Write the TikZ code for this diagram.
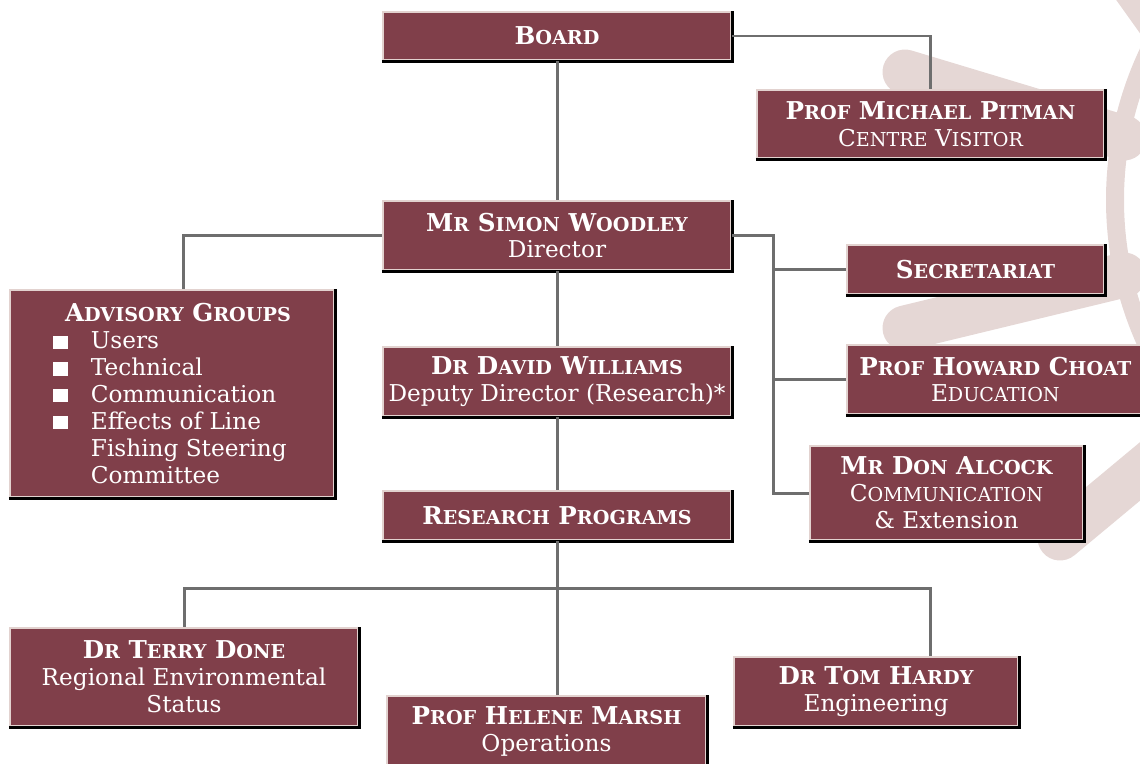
\documentclass[tikz,border=0pt]{standalone}
\usepackage{fontspec}
\setmainfont{DejaVu Serif}
\definecolor{boxred}{HTML}{803F4A}
\definecolor{boxedge}{HTML}{E2D2CF}
\definecolor{sunpink}{HTML}{E5D7D5}
\definecolor{linkgray}{HTML}{6E6E6E}
\newcommand\smc[2]{#1{\fontsize{10.9}{15.3}\selectfont #2}}
\newcommand\role[1]{{\mdseries\fontsize{13.2}{15.3}\selectfont #1}}
\newcommand\bsq{\rule{8.5pt}{7.5pt}}

\begin{document}
\begin{tikzpicture}[x=0.02cm, y=-0.02cm]
        \tikzstyle{orgbox} = [fill=boxred, draw=boxedge, line width=0.05cm, text=white, align=center, inner sep=0pt, font=\fontsize{14}{15.3}\selectfont\bfseries]
        \tikzstyle{dropline} = [draw=black, line width=0.06cm]
        \tikzstyle{connector} = [draw=linkgray, line width=0.06cm]
        \tikzstyle{sunray} = [draw=sunpink, line width=0.9cm, line cap=round]
        \useasboundingbox (0,0) rectangle (1140,764);
        % sun in the background
        \draw[sunpink, line width=0.36cm] (1460,200) circle (345);
        \draw[sunray] (905,72) -- (1124,138);
        \draw[sunray] (905,328) -- (1124,275);
        \draw[sunray] (1060,538) -- (1197,424);
        \draw[sunray] (1201,80) -- (1101,-60);
        % boxes
        \node[orgbox, minimum width=6.96cm, minimum height=0.96cm] (board) at (557,36) {\smc{B}{OARD}};
        \node[orgbox, minimum width=6.94cm, minimum height=1.36cm] (visitor) at (930.5,124) {\smc{P}{ROF} \smc{M}{ICHAEL} \smc{P}{ITMAN}\\ \role{\smc{C}{ENTRE} \smc{V}{ISITOR}}};
        \node[orgbox, minimum width=6.96cm, minimum height=1.38cm] (director) at (557,235.5) {\smc{M}{R} \smc{S}{IMON} \smc{W}{OODLEY}\\ \role{Director}};
        \node[orgbox, minimum width=6.48cm, minimum height=4.14cm, align=left] (advisory) at (172,393.5) {\hspace*{6.8pt}\smc{A}{DVISORY} \smc{G}{ROUPS}\\ \role{\makebox[21.5pt][l]{\bsq}Users}\\ \role{\makebox[21.5pt][l]{\bsq}Technical}\\ \role{\makebox[21.5pt][l]{\bsq}Communication}\\ \role{\makebox[21.5pt][l]{\bsq}Effects of Line}\\ \role{\hspace*{21.5pt}Fishing Steering\hspace*{13pt}}\\ \role{\hspace*{21.5pt}Committee}};
        \node[orgbox, minimum width=5.14cm, minimum height=0.98cm] (secretariat) at (975.5,269.5) {\smc{S}{ECRETARIAT}};
        \node[orgbox, minimum width=6.04cm, minimum height=1.38cm] (education) at (998,379.5) {\smc{P}{ROF} \smc{H}{OWARD} \smc{C}{HOAT}\hspace*{3pt}\\ \role{\smc{E}{DUCATION}}\hspace*{3pt}};
        \node[orgbox, minimum width=5.46cm, minimum height=1.88cm] (communication) at (946.5,493) {\smc{M}{R} \smc{D}{ON} \smc{A}{LCOCK}\\ \role{\smc{C}{OMMUNICATION}}\\ \role{\& Extension}};
        \node[orgbox, minimum width=6.96cm, minimum height=1.38cm] (deputy) at (557,381.5) {\smc{D}{R} \smc{D}{AVID} \smc{W}{ILLIAMS}\\ \role{Deputy Director (Research)*}};
        \node[orgbox, minimum width=6.96cm, minimum height=0.98cm] (research) at (557,515.5) {\smc{R}{ESEARCH} \smc{P}{ROGRAMS}};
        \node[orgbox, minimum width=6.96cm, minimum height=1.96cm] (regional) at (184,677) {\smc{D}{R} \smc{T}{ERRY} \smc{D}{ONE}\\ \role{Regional Environmental}\\ \role{Status}};
        \node[orgbox, minimum width=6.38cm, minimum height=1.40cm] (operations) at (546.5,731) {\smc{P}{ROF} \smc{H}{ELENE} \smc{M}{ARSH}\\ \role{Operations}};
        \node[orgbox, minimum width=5.68cm, minimum height=1.38cm] (engineering) at (876,691.5) {\smc{D}{R} \smc{T}{OM} \smc{H}{ARDY}\\ \role{Engineering}};
        \foreach \b in {board,visitor,director,advisory,secretariat,education,communication,deputy,research,regional,operations,engineering}
          \draw[dropline] (\b.south west) -- (\b.south east) -- (\b.north east);
        % connectors
        \coordinate (rbus) at (773,235.5);
        \coordinate (pbus) at (557,588);
        \coordinate (pend) at (930,588);
        \draw[connector] (board.east) -| (visitor.north);
        \draw[connector] (board) -- (director);
        \draw[connector] (director.west) -| ([xshift=0.24cm]advisory.north);
        \draw[connector] (director.east) -- (rbus) |- (communication.west);
        \draw[connector] (rbus |- secretariat.west) -- (secretariat.west);
        \draw[connector] (rbus |- education.west) -- (education.west);
        \draw[connector] (director) -- (deputy);
        \draw[connector] (deputy) -- (research);
        \draw[connector] (research) -- (pbus) -- (pbus |- operations.north);
        \draw[connector] (regional) |- (pbus);
        \draw[connector] (pbus) -- (pend) -- (pend |- engineering.north);
      \end{tikzpicture}
\end{document}
